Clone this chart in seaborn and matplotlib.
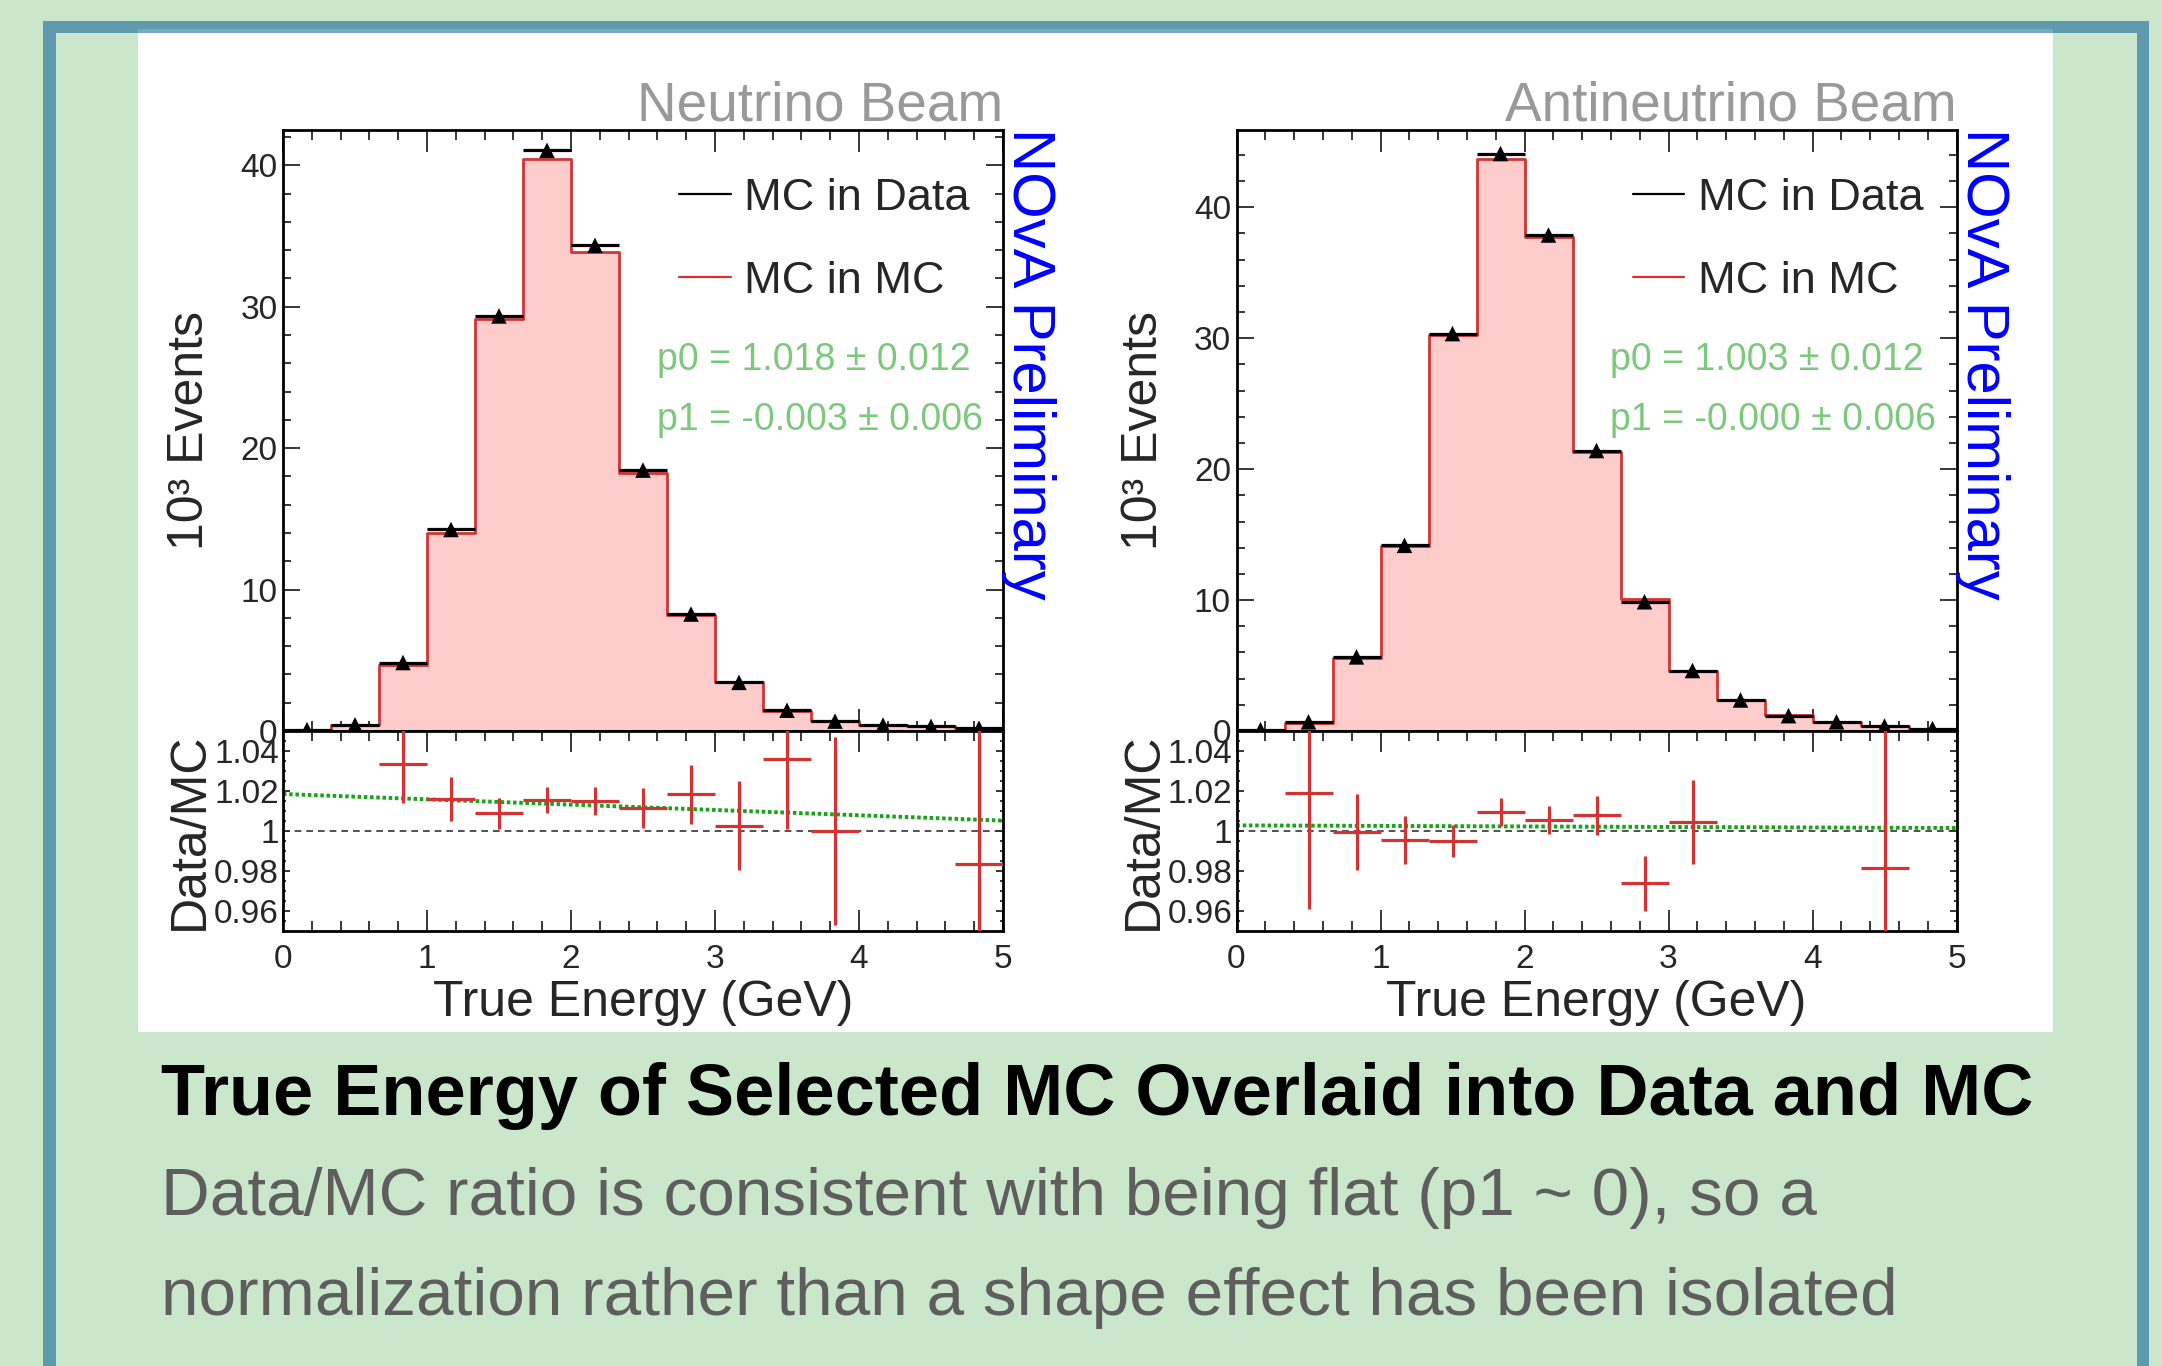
import numpy as np
import pandas as pd
import matplotlib
matplotlib.use("Agg")
import matplotlib.pyplot as plt
from matplotlib.patches import Rectangle
from matplotlib.lines import Line2D
from matplotlib.ticker import FixedLocator, MultipleLocator, FormatStrFormatter
import seaborn as sns

# ---------------- data ----------------
bin_edges = [i / 3.0 for i in range(16)]  # 15 bins of 1/3 GeV from 0 to 5 GeV
bin_centers = [(bin_edges[i] + bin_edges[i + 1]) / 2 for i in range(15)]

# Neutrino beam (10^3 events)
nu_mc_in_mc = [0.10, 0.42, 4.70, 14.00, 29.10, 40.47, 33.84, 18.27, 8.18, 3.43, 1.41, 0.70, 0.42, 0.33, 0.20]
nu_mc_in_data = [0.10, 0.44, 4.84, 14.25, 29.35, 41.06, 34.34, 18.45, 8.27, 3.44, 1.47, 0.70, 0.42, 0.33, 0.20]
# Neutrino ratio (visible bins)
nu_ratio_bins = [2, 3, 4, 5, 6, 7, 8, 9, 10, 11, 14]
nu_ratio = [1.0333, 1.0160, 1.0088, 1.0155, 1.0148, 1.0115, 1.0183, 1.0027, 1.0362, 1.0000, 0.9833]
nu_ratio_err = [0.0195, 0.0110, 0.0077, 0.0066, 0.0070, 0.0098, 0.0147, 0.0223, 0.0350, 0.0470, 0.0900]
nu_fit_x = [0.0, 5.0]
nu_fit_y = [1.0185, 1.0052]
nu_p0 = "p0 = 1.018 ± 0.012"
nu_p1 = "p1 = -0.003 ± 0.006"

# Antineutrino beam (10^3 events)
anu_mc_in_mc = [0.10, 0.63, 5.60, 14.10, 30.28, 43.70, 37.72, 21.27, 10.10, 4.62, 2.34, 1.20, 0.70, 0.38, 0.19]
anu_mc_in_data = [0.10, 0.70, 5.66, 14.18, 30.35, 44.10, 37.88, 21.42, 9.87, 4.62, 2.37, 1.17, 0.70, 0.38, 0.19]
anu_ratio_bins = [1, 2, 3, 4, 5, 6, 7, 8, 9, 13]
anu_ratio = [1.0188, 0.9993, 0.9955, 0.9950, 1.0097, 1.0055, 1.0078, 0.9738, 1.0045, 0.9813]
anu_ratio_err = [0.0580, 0.0190, 0.0120, 0.0080, 0.0070, 0.0072, 0.0097, 0.0138, 0.0210, 0.0900]
anu_fit_x = [0.0, 5.0]
anu_fit_y = [1.0028, 1.0015]
anu_p0 = "p0 = 1.003 ± 0.012"
anu_p1 = "p1 = -0.000 ± 0.006"

panel_titles = ["Neutrino Beam", "Antineutrino Beam"]
legend_labels = ["MC in Data", "MC in MC"]
x_ticks = [0, 1, 2, 3, 4, 5]
y_ticks_main = [0, 10, 20, 30, 40]
y_ticks_ratio = [0.96, 0.98, 1.00, 1.02, 1.04]

headline = "True Energy of Selected MC Overlaid into Data and MC"
body_lines = ["Data/MC ratio is consistent with being flat (p1 ~ 0), so a",
              "normalization rather than a shape effect has been isolated"]

# ---------------- style ----------------
sns.set_style("white")
plt.rcParams["font.family"] = ["Liberation Sans", "DejaVu Sans"]

BG_GREEN = "#cbe7cb"
BORDER = "#5f9aae"
STRIP = "#78a7c7"
PINK = "#ffcccc"
RED = "#d23434"
FIT_GREEN = "#16a316"
TXT_GREEN = "#7cc97c"

W, H = 2162, 1366
fig = plt.figure(figsize=(W / 100, H / 100), dpi=100, facecolor=BG_GREEN)


def fx(px):
    return px / W


def fy(py):
    return 1 - py / H


def add_rect(x0, y0, x1, y1, color, z=-10):
    r = Rectangle((fx(x0), fy(y1)), (x1 - x0) / W, (y1 - y0) / H,
                  transform=fig.transFigure, facecolor=color, edgecolor="none", zorder=z)
    fig.add_artist(r)


# poster frame
add_rect(43, 20.7, 2149, 33, BORDER)
add_rect(43, 20.7, 56, H + 5, BORDER)
add_rect(2137, 20.7, 2149, H + 5, BORDER)
add_rect(138, 29, 2053, 33, STRIP, z=-9)
add_rect(138, 33, 2053, 1032, "white", z=-9)

panels = [
    dict(left=283, mc=nu_mc_in_mc, data=nu_mc_in_data, rb=nu_ratio_bins, r=nu_ratio,
         re=nu_ratio_err, fx_=nu_fit_x, fy_=nu_fit_y, p0=nu_p0, p1=nu_p1, ymax=42.5,
         title=panel_titles[0]),
    dict(left=1236.5, mc=anu_mc_in_mc, data=anu_mc_in_data, rb=anu_ratio_bins, r=anu_ratio,
         re=anu_ratio_err, fx_=anu_fit_x, fy_=anu_fit_y, p0=anu_p0, p1=anu_p1, ymax=45.9,
         title=panel_titles[1]),
]

AX_W = 720
LBL = 36
TICK_LBL = 24
half_w = (bin_edges[1] - bin_edges[0]) / 2

for p in panels:
    ax = fig.add_axes([fx(p["left"]), fy(731), AX_W / W, 601 / H])
    axr = fig.add_axes([fx(p["left"]), fy(931), AX_W / W, 200 / H])
    for a in (ax, axr):
        a.set_facecolor("white")
        for s in a.spines.values():
            s.set_linewidth(2.0)
            s.set_color("black")
            s.set_visible(True)

    df = pd.DataFrame({"E": bin_centers, "mc": p["mc"], "data": p["data"]})

    # --- main histogram ---
    sns.histplot(data=df, x="E", weights="mc", bins=bin_edges, element="step", fill=True,
                 color=PINK, alpha=1, linewidth=0, ax=ax, zorder=1)
    sns.histplot(data=df, x="E", weights="mc", bins=bin_edges, element="step", fill=False,
                 color=RED, linewidth=2.0, ax=ax, zorder=2)
    ax.errorbar(df["E"], df["data"], xerr=half_w, fmt="none",
                ecolor="black", elinewidth=2.3, capsize=0, zorder=3)
    sns.scatterplot(data=df, x="E", y="data", marker="^", color="black", s=125,
                    edgecolor="none", ax=ax, zorder=4, legend=False)

    ax.set_xlim(0, 5)
    ax.set_ylim(0, p["ymax"])
    ax.set_xlabel("")
    ax.set_ylabel("10³ Events", fontsize=LBL)
    ax.yaxis.set_label_coords(-0.097, 0.5)
    ax.xaxis.set_major_locator(FixedLocator(x_ticks))
    ax.xaxis.set_minor_locator(MultipleLocator(0.2))
    ax.yaxis.set_major_locator(FixedLocator(y_ticks_main))
    ax.yaxis.set_minor_locator(MultipleLocator(2))
    ax.tick_params(which="both", direction="in", top=True, right=True, bottom=True, left=True,
                   width=1.1, color="black")
    ax.tick_params(axis="x", which="major", length=16, labelbottom=False)
    ax.tick_params(axis="x", which="minor", length=7)
    ax.tick_params(axis="y", which="major", length=12.5, labelsize=TICK_LBL, pad=4)
    ax.tick_params(axis="y", which="minor", length=6)

    # legend
    handles = [Line2D([], [], color="black", lw=1.6), Line2D([], [], color=RED, lw=1.6)]
    ax.legend(handles, legend_labels, loc="upper left", bbox_to_anchor=(0.55, 0.92),
              frameon=False, fontsize=32.5, handlelength=1.15, handletextpad=0.3,
              labelspacing=0.92, borderpad=0, borderaxespad=0)

    ax.text(0.519, 0.617, p["p0"], transform=ax.transAxes, color=TXT_GREEN, fontsize=27,
            ha="left", va="center")
    ax.text(0.519, 0.517, p["p1"], transform=ax.transAxes, color=TXT_GREEN, fontsize=27,
            ha="left", va="center")

    ax.text(1.0, 1.0166, p["title"], transform=ax.transAxes, color="#999999", fontsize=39.5,
            ha="right", va="baseline")
    ax.text(1.0139, 1.003, "NOvA Preliminary", transform=ax.transAxes, color="#0000ff",
            fontsize=43, rotation=-90, rotation_mode="anchor", ha="left", va="baseline")

    # --- ratio panel ---
    rx = [bin_centers[i] for i in p["rb"]]
    sns.lineplot(x=p["fx_"], y=p["fy_"], color=FIT_GREEN, linewidth=2.8,
                 linestyle=(0, (0.9, 0.7)), ax=axr, zorder=2)
    axr.axhline(1.0, color="#333333", lw=1.2, ls=(0, (4, 3)), zorder=1)
    axr.errorbar(rx, p["r"], xerr=half_w, yerr=p["re"], fmt="none",
                 ecolor=RED, elinewidth=2.3, capsize=0, zorder=3)

    axr.set_xlim(0, 5)
    axr.set_ylim(0.95, 1.05)
    axr.xaxis.set_major_locator(FixedLocator(x_ticks))
    axr.xaxis.set_minor_locator(MultipleLocator(0.2))
    axr.yaxis.set_major_locator(FixedLocator(y_ticks_ratio))
    axr.yaxis.set_minor_locator(MultipleLocator(0.005))
    axr.yaxis.set_major_formatter(FormatStrFormatter("%g"))
    axr.tick_params(which="both", direction="in", top=True, right=True, bottom=True, left=True,
                    width=1.1, color="black")
    axr.tick_params(axis="x", which="major", length=15, labelsize=TICK_LBL, pad=9)
    axr.tick_params(axis="x", which="minor", length=7)
    axr.tick_params(axis="y", which="major", length=5, labelsize=TICK_LBL, pad=3)
    axr.tick_params(axis="y", which="minor", length=2.5)
    axr.set_ylabel("Data/MC", fontsize=LBL)
    axr.yaxis.set_label_coords(-0.097, 0.5)
    axr.set_xlabel("True Energy (GeV)", fontsize=LBL)
    axr.xaxis.set_label_coords(0.5, -0.245)

# ---------------- poster text ----------------
fig.text(fx(161), fy(1115), headline, fontsize=51.9, fontweight="bold", color="black",
         ha="left", va="baseline")
fig.text(fx(161), fy(1215), body_lines[0], fontsize=48.6, color="#5e5e5e", ha="left", va="baseline")
fig.text(fx(161), fy(1315), body_lines[1], fontsize=48.6, color="#5e5e5e", ha="left", va="baseline")

fig.savefig("out.png", dpi=100, facecolor=BG_GREEN)
